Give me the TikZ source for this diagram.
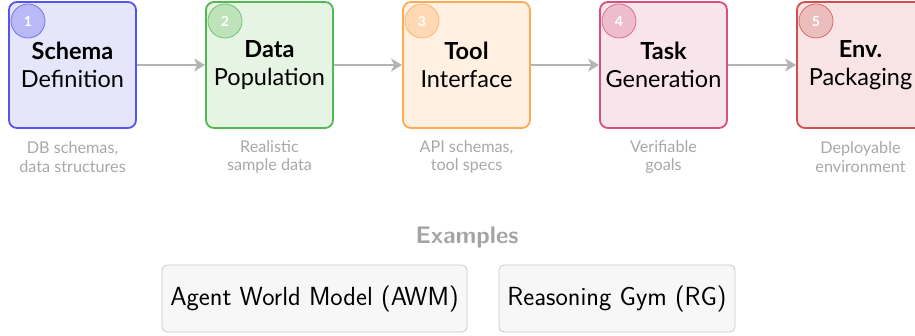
\documentclass[tikz,border=0pt]{standalone}
\usepackage{fontspec}
\setmainfont{Lato}
\usetikzlibrary{arrows.meta}

\definecolor{capgray}{HTML}{A8A8A8}
\definecolor{arrowgray}{HTML}{B4B4B4}
\definecolor{exborder}{HTML}{C8C8C8}
\definecolor{exfill}{HTML}{F7F7F7}
\definecolor{exlabel}{HTML}{A4A4A4}

\definecolor{fillA}{HTML}{E6E6FB}\definecolor{edgeA}{HTML}{5454F2}\definecolor{dotA}{HTML}{B9B9F6}\definecolor{ringA}{HTML}{7474F2}
\definecolor{fillB}{HTML}{E6F4E3}\definecolor{edgeB}{HTML}{52B852}\definecolor{dotB}{HTML}{BEE3BA}\definecolor{ringB}{HTML}{6EC56E}
\definecolor{fillC}{HTML}{FFF0E2}\definecolor{edgeC}{HTML}{FFAA55}\definecolor{dotC}{HTML}{FFD9B3}\definecolor{ringC}{HTML}{FFB672}
\definecolor{fillD}{HTML}{F8E4EB}\definecolor{edgeD}{HTML}{D94F82}\definecolor{dotD}{HTML}{EEBDCD}\definecolor{ringD}{HTML}{DE6B94}
\definecolor{fillE}{HTML}{F8E4E4}\definecolor{edgeE}{HTML}{D24F4F}\definecolor{dotE}{HTML}{EBBDBD}\definecolor{ringE}{HTML}{D96A6A}

\begin{document}
\begin{tikzpicture}[x=1pt,y=-1pt,
  stage/.style={draw, line width=1.8pt, rounded corners=8pt,
    minimum width=127pt, minimum height=126pt, inner sep=0pt,
    align=center, font=\fontsize{23.5}{28}\selectfont},
  badge/.style={circle, line width=0.8pt, minimum size=34pt, inner sep=0pt,
    text=white, font=\fontsize{14}{14}\selectfont\bfseries},
  stagenote/.style={align=center, text=capgray, font=\fontsize{16.2}{18.5}\selectfont},
  flow/.style={draw=arrowgray, line width=2.2pt,
    -{Stealth[length=11pt,width=13pt,inset=3pt]}},
  example/.style={draw=exborder, fill=exfill, line width=0.8pt,
    rounded corners=5pt, minimum height=67pt, inner sep=0pt,
    font=\sffamily\fontsize{26.2}{30}\selectfont}
]
\useasboundingbox (0,0) rectangle (915,336);

% pipeline stages
\node[stage, draw=edgeA, fill=fillA] (s1) at (72.5,65)  {\textbf{Schema}\\Definition};
\node[stage, draw=edgeB, fill=fillB] (s2) at (269.5,65) {\textbf{Data}\\Population};
\node[stage, draw=edgeC, fill=fillC] (s3) at (466.5,65) {\textbf{Tool}\\Interface};
\node[stage, draw=edgeD, fill=fillD] (s4) at (663.5,65) {\textbf{Task}\\Generation};
\node[stage, draw=edgeE, fill=fillE] (s5) at (860.5,65) {\textbf{Env.}\\Packaging};

% step numbers
\node[badge, draw=ringA, fill=dotA] (n1) at (28,21)  {1};
\node[badge, draw=ringB, fill=dotB] (n2) at (225,21) {2};
\node[badge, draw=ringC, fill=dotC] (n3) at (422,21) {3};
\node[badge, draw=ringD, fill=dotD] (n4) at (619,21) {4};
\node[badge, draw=ringE, fill=dotE] (n5) at (816,21) {5};

% flow between stages
\draw[flow] (s1) -- (s2);
\draw[flow] (s2) -- (s3);
\draw[flow] (s3) -- (s4);
\draw[flow] (s4) -- (s5);

% notes under the stages
\node[stagenote] (c1) at (72.5,157)  {DB schemas,\\data structures};
\node[stagenote] (c2) at (269.5,157) {Realistic\\sample data};
\node[stagenote] (c3) at (466.5,157) {API schemas,\\tool specs};
\node[stagenote] (c4) at (663.5,157) {Verifiable\\goals};
\node[stagenote] (c5) at (860.5,157) {Deployable\\environment};

% examples
\node[text=exlabel, font=\sffamily\bfseries\fontsize{24}{27}\selectfont] (ex) at (467,238) {Examples};
\node[example, minimum width=305pt] (awm) at (314.5,298.5) {Agent World Model (AWM)};
\node[example, minimum width=236pt] (rg) at (617,298.5) {Reasoning Gym (RG)};
\end{tikzpicture}
\end{document}
